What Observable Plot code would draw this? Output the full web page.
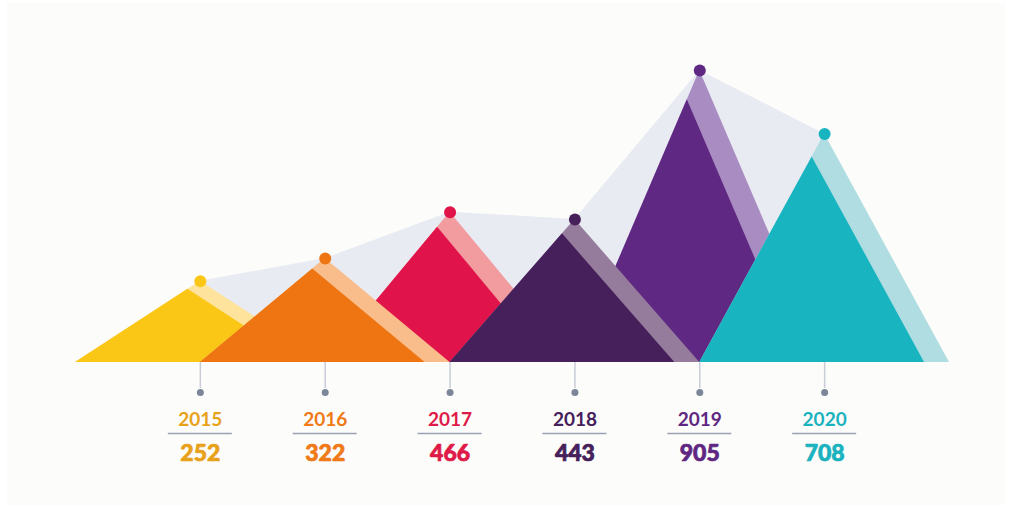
<!DOCTYPE html>
<html>
<head>
<meta charset="utf-8">
<script src="https://cdn.jsdelivr.net/npm/d3@7"></script>
<script src="https://cdn.jsdelivr.net/npm/@observablehq/plot@0.6"></script>
<style>
  html, body { margin: 0; padding: 0; background: #ffffff; }
  #wrap { position: relative; width: 1012px; height: 512px; overflow: hidden; }
  #panel { position: absolute; left: 7px; top: 3px; width: 998px; height: 502px; background: #fcfcfa; }
  #chart { position: absolute; left: 0; top: 0; }
</style>
</head>
<body>
<div id="wrap"><div id="panel"></div><div id="chart"></div></div>
<script>
// ---- data ----
const years = [2015, 2016, 2017, 2018, 2019, 2020];
const values = [252, 322, 466, 443, 905, 708];

// ---- styles ----
const darkColors  = ["#fbc716", "#ee7511", "#e0144a", "#46205a", "#5f2882", "#18b4c0"];
const lightColors = ["#fde39c", "#f9bd8b", "#f29c9f", "#957c9c", "#a98dc2", "#b0dde2"];
const labelColors = ["#e8a21a", "#ef7a17", "#df1a48", "#45205a", "#5f2782", "#1bb2bf"];
const drawOrder = [2, 4, 0, 1, 3, 5]; // stacking: 2017 & 2019 sit behind their neighbours
const k = 0.9; // front triangle scale relative to the back (light) triangle

const rows = years.map((year, i) => ({year, value: values[i], dark: darkColors[i], light: lightColors[i], label: labelColors[i]}));

// triangle outlines built from the data (half-width = one year step)
const shapes = [];
drawOrder.forEach((i, order) => {
  const r = rows[i];
  shapes.push({key: order * 2, x: r.year - 1, y: 0, fill: r.light});
  shapes.push({key: order * 2, x: r.year, y: r.value, fill: r.light});
  shapes.push({key: order * 2, x: r.year + 1, y: 0, fill: r.light});
  shapes.push({key: order * 2 + 1, x: r.year - 1, y: 0, fill: r.dark});
  shapes.push({key: order * 2 + 1, x: r.year - 1 + k, y: r.value * k, fill: r.dark});
  shapes.push({key: order * 2 + 1, x: r.year - 1 + 2 * k, y: 0, fill: r.dark});
});

const font = "Lato, 'Open Sans', sans-serif";

const plot = Plot.plot({
  width: 1012,
  height: 512,
  margin: 0,
  style: {background: "transparent", fontFamily: font, overflow: "visible"},
  x: {domain: [2014, 2021], range: [75, 949], axis: null},
  y: {domain: [0, 905], range: [362, 70], axis: null},
  marks: [
    // soft band connecting the peaks
    Plot.areaY(rows, {x: "year", y: "value", fill: "#e9ebf3", curve: "linear"}),
    // mountains (each year: light back triangle, then dark front triangle)
    ...drawOrder.flatMap((_, order) => [
      Plot.areaY(shapes.filter(d => d.key === order * 2), {x: "x", y: "y", fill: d => d.fill, curve: "linear"}),
      Plot.areaY(shapes.filter(d => d.key === order * 2 + 1), {x: "x", y: "y", fill: d => d.fill, curve: "linear"})
    ]),
    // peak dots
    Plot.dot(rows, {x: "year", y: "value", r: 6, fill: d => d.dark, stroke: null}),
    // connector stems below the base
    Plot.ruleX(rows, {x: "year", y1: 0, y2: 0, insetTop: 0, insetBottom: -26, stroke: "#c9cdd8", strokeWidth: 1.5}),
    Plot.dot(rows, {x: "year", y: 0, dy: 30, r: 3.5, fill: "#7c8699", stroke: null}),
    // year labels
    Plot.text(rows, {x: "year", y: 0, dy: 57, text: d => String(d.year), fill: d => d.label, fontSize: 19, fontWeight: 700, fontFamily: font}),
    // underline
    Plot.ruleY(rows, {y: 0, x1: "year", x2: "year", insetLeft: -32, insetRight: -32, dy: 71, stroke: "#9ca1b8", strokeWidth: 1.5}),
    // value labels
    Plot.text(rows, {x: "year", y: 0, dy: 91, text: d => String(d.value), fill: d => d.label, stroke: d => d.label, strokeWidth: 0.7, fontSize: 23, fontWeight: 900, fontFamily: font})
  ]
});
document.getElementById("chart").appendChild(plot);
</script>
</body>
</html>
